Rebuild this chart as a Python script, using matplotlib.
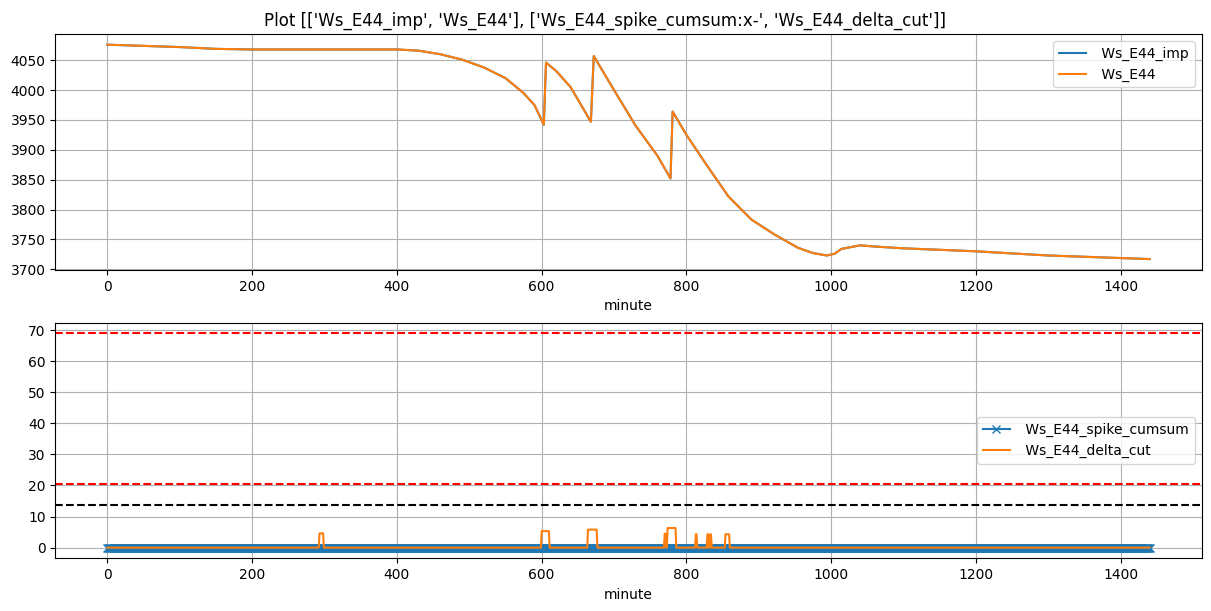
import numpy as np
import matplotlib
matplotlib.use('Agg')
import matplotlib.pyplot as plt

ws_minute = [0, 50, 100, 150, 200, 300, 400, 430, 460, 490, 520, 550, 575, 590, 603,
             606, 620, 640, 668, 672, 700, 730, 760, 778, 781, 800, 826, 858, 890,
             922, 954, 975, 994, 1005, 1014, 1040, 1060, 1100, 1200, 1300, 1440]
ws_value = [4076, 4074, 4072, 4069, 4068, 4068, 4068, 4066, 4060, 4051, 4038, 4020, 3995,
            3975, 3942, 4046, 4032, 4005, 3947, 4057, 4000, 3940, 3890, 3852, 3964, 3925,
            3878, 3822, 3783, 3758, 3736, 3727, 3723, 3726, 3734, 3740, 3738, 3735, 3730,
            3723, 3717]

# bottom panel
n_minutes = 1441
spike_cumsum = np.zeros(n_minutes)
pulse_start = [293, 600, 664, 770, 774, 813, 829, 833, 854]
pulse_end = [298, 610, 676, 771, 785, 814, 830, 834, 859]
pulse_height = [4.6, 5.3, 5.8, 4.5, 6.3, 4.3, 4.3, 4.3, 4.3]
red_levels = [69.0, 20.5]
black_level = 13.8


def delta_path(starts, ends, heights, last):
    xs, ys = [0], [0]
    for s, e, h in zip(starts, ends, heights):
        xs += [s - 1, s, e, e + 1]
        ys += [0, h, h, 0]
    xs.append(last)
    ys.append(0)
    return xs, ys


fig, (ax1, ax2) = plt.subplots(2, 1, figsize=(12.11, 6.11), dpi=100)
fig.subplots_adjust(left=0.0457, right=0.9923, top=0.9444, bottom=0.0862, hspace=0.2235)
fig.suptitle("Plot [['Ws_E44_imp', 'Ws_E44'], ['Ws_E44_spike_cumsum:x-', 'Ws_E44_delta_cut']]")

ax1.plot(ws_minute, ws_value, label=' Ws_E44_imp')
ax1.plot(ws_minute, ws_value, label=' Ws_E44')
ax1.set_xlabel('minute')
ax1.grid(True)
ax1.legend(loc='upper right')

minutes = np.arange(n_minutes)
dx, dy = delta_path(pulse_start, pulse_end, pulse_height, n_minutes - 1)
ax2.plot(minutes, spike_cumsum, 'x-', label=' Ws_E44_spike_cumsum')
ax2.plot(dx, dy, label=' Ws_E44_delta_cut')
for lvl in red_levels:
    ax2.axhline(lvl, color='r', linestyle='--')
ax2.axhline(black_level, color='k', linestyle='--')
ax2.set_xlabel('minute')
ax2.grid(True)
ax2.legend(loc='center right')

fig.savefig('out.png')
